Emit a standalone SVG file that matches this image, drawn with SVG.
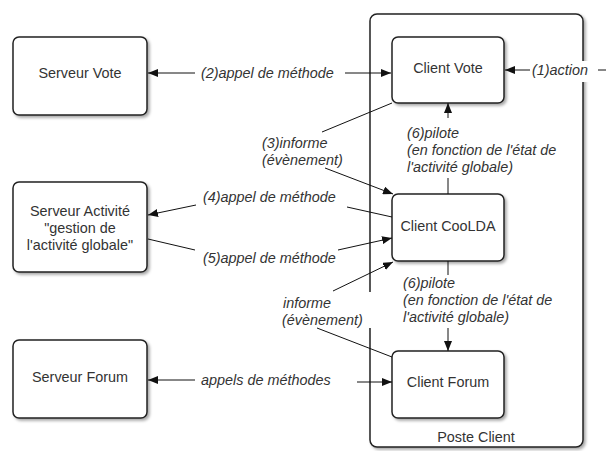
<svg xmlns="http://www.w3.org/2000/svg" width="606" height="451" viewBox="0 0 606 451">
<style>
.box{fill:#fff;stroke:#222;stroke-width:1.5;filter:url(#sh)}
.nt{font-family:"Liberation Sans",Arial,sans-serif;font-size:14.4px;fill:#333;text-anchor:middle}
.lb{font-family:"Liberation Sans",Arial,sans-serif;font-size:14.4px;font-style:italic;fill:#333}
.ln{stroke:#111;stroke-width:1;fill:none}
.ar{stroke:#111;stroke-width:1;fill:none;marker-end:url(#ah)}
</style>
<defs>
<filter id="sh" x="-10%" y="-10%" width="130%" height="130%">
<feDropShadow dx="2" dy="2" stdDeviation="1.5" flood-color="#000" flood-opacity="0.35"/>
</filter>
<marker id="ah" markerUnits="userSpaceOnUse" markerWidth="11" markerHeight="8" refX="10" refY="4" orient="auto">
<path d="M0,0 L10,4 L0,8 z" fill="#111"/>
</marker>
</defs>
<rect width="606" height="451" fill="#fff"/>
<g id="poste-client">
<rect class="box" x="370" y="14" width="213" height="433" rx="7"/>
<text class="nt" x="476" y="442">Poste Client</text>
</g>
<g id="serveur-vote">
<rect class="box" x="13" y="37" width="134" height="78" rx="6"/>
<text class="nt" x="80" y="78">Serveur Vote</text>
</g>
<g id="serveur-activite">
<rect class="box" x="13" y="182" width="134" height="90" rx="6"/>
<text class="nt" x="80" y="216">Serveur Activité</text>
<text class="nt" x="80" y="233">"gestion de</text>
<text class="nt" x="80" y="250">l'activité globale"</text>
</g>
<g id="serveur-forum">
<rect class="box" x="13" y="340" width="134" height="78" rx="6"/>
<text class="nt" x="80" y="382">Serveur Forum</text>
</g>
<g id="client-vote">
<rect class="box" x="392" y="37" width="112" height="66" rx="6"/>
<text class="nt" x="448" y="73">Client Vote</text>
</g>
<g id="client-coolda">
<rect class="box" x="392" y="194" width="112" height="67" rx="6"/>
<text class="nt" x="448" y="231">Client CooLDA</text>
</g>
<g id="client-forum">
<rect class="box" x="392" y="351" width="112" height="67" rx="6"/>
<text class="nt" x="448" y="387">Client Forum</text>
</g>
<g id="connectors">
<rect x="527" y="61" width="70" height="21" fill="#fff"/>
<line class="ln" x1="598" y1="70" x2="606" y2="70"/>
<line class="ar" x1="530" y1="70" x2="505" y2="70"/>
<text class="lb" x="532" y="75">(1)action</text>

<line class="ar" x1="195" y1="73" x2="148" y2="73"/>
<line class="ar" x1="345" y1="73" x2="391" y2="73"/>
<text class="lb" x="201" y="78">(2)appel de méthode</text>

<line class="ln" x1="392" y1="103" x2="322" y2="132"/>
<line class="ar" x1="325" y1="168" x2="393" y2="194"/>
<text class="lb" x="262" y="148">(3)informe</text>
<text class="lb" x="262" y="165">(évènement)</text>

<line class="ln" x1="392" y1="217" x2="347" y2="207"/>
<line class="ar" x1="196" y1="205" x2="148" y2="215"/>
<text class="lb" x="203" y="202">(4)appel de méthode</text>

<line class="ln" x1="148" y1="239" x2="195" y2="250"/>
<line class="ar" x1="338" y1="250" x2="392" y2="238"/>
<text class="lb" x="203" y="263">(5)appel de méthode</text>

<rect x="280" y="292" width="92" height="36" fill="#fff"/>
<line class="ar" x1="333" y1="291" x2="393" y2="262"/>
<line class="ln" x1="317" y1="328" x2="392" y2="357"/>
<text class="lb" x="283" y="308">informe</text>
<text class="lb" x="282" y="325">(évènement)</text>

<line class="ln" x1="448" y1="194" x2="448" y2="178"/>
<line class="ar" x1="448" y1="118" x2="448" y2="103"/>
<text class="lb" x="407" y="138">(6)pilote</text>
<text class="lb" x="407" y="155">(en fonction de l'état de</text>
<text class="lb" x="407" y="172">l'activité globale)</text>

<line class="ln" x1="448" y1="261" x2="448" y2="275"/>
<line class="ar" x1="448" y1="328" x2="448" y2="351"/>
<text class="lb" x="403" y="288">(6)pilote</text>
<text class="lb" x="403" y="305">(en fonction de l'état de</text>
<text class="lb" x="403" y="322">l'activité globale)</text>

<line class="ar" x1="195" y1="380" x2="148" y2="380"/>
<line class="ar" x1="357" y1="382" x2="392" y2="382"/>
<text class="lb" x="201" y="385">appels de méthodes</text>
</g>
</svg>
